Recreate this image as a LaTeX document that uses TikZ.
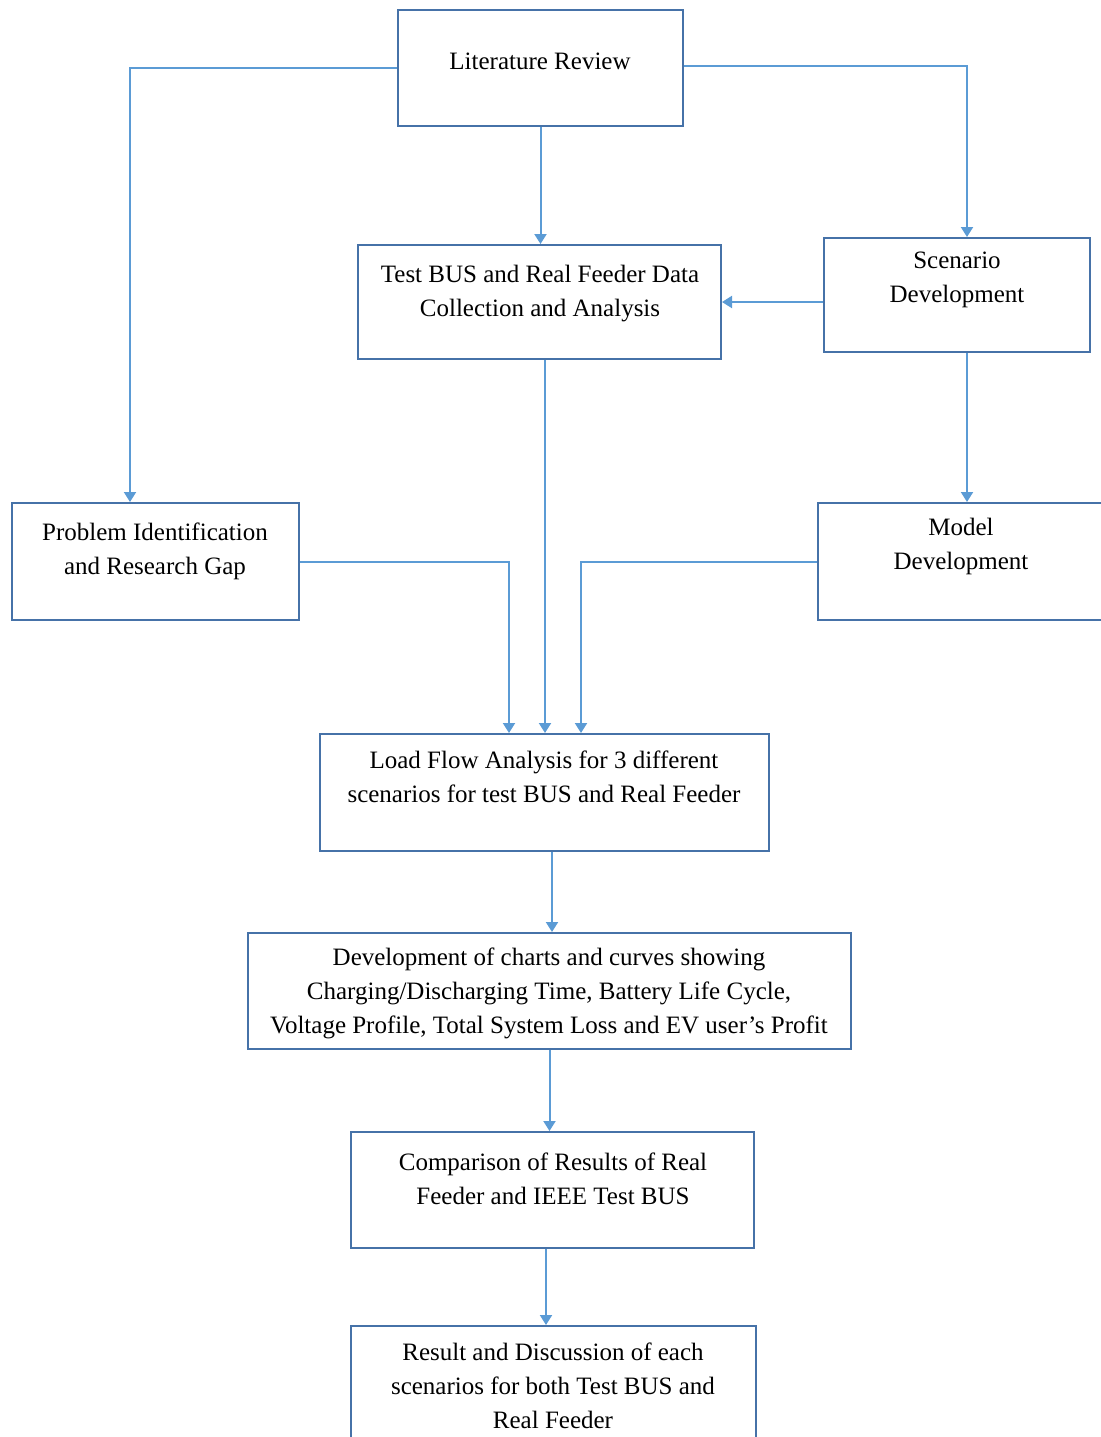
\documentclass[tikz,border=0pt]{standalone}
\usepackage{fontspec}
\setmainfont{Liberation Serif}
\usetikzlibrary{arrows.meta,fit,calc}
\definecolor{boxblue}{RGB}{70,114,168}
\definecolor{arrblue}{RGB}{91,155,213}
\begin{document}
\begin{tikzpicture}[x=0.5pt,y=-0.5pt,
  box/.style={draw=boxblue,line width=1pt,inner sep=0pt,fill=white},
  txt/.style={align=center,inner sep=0pt,font=\fontsize{12.5}{17}\selectfont},
  arr/.style={draw=arrblue,line width=1pt,-{Triangle[width=6pt,length=5pt]}}]
\useasboundingbox (0,0) rectangle (1101,1437);
\clip (0,0) rectangle (1101,1437);
% boxes
\node[box,fit={(398,10)(683,126)}] (lit) {};
\node[box,fit={(358,245)(721,359)}] (test) {};
\node[box,fit={(824,238)(1090,352)}] (scen) {};
\node[box,fit={(12,503)(299,620)}] (prob) {};
\node[box,fit={(818,503)(1104,620)}] (model) {};
\node[box,fit={(320,734)(769,851)}] (load) {};
\node[box,fit={(248,933)(851,1049)}] (dev) {};
\node[box,fit={(351,1132)(754,1248)}] (comp) {};
\node[box,fit={(351,1326)(756,1480)}] (res) {};
% texts
\node[txt] (litT) at (540,61) {Literature Review};
\node[txt] (testT) at (540,294) {Test BUS and Real Feeder Data\\Collection and Analysis};
\node[txt] (scenT) at (957,280) {Scenario\\Development};
\node[txt] (probT) at (155,551) {Problem Identification\\and Research Gap};
\node[txt] (modelT) at (961,546) {Model\\Development};
\node[txt] (loadT) at (544,777) {Load Flow Analysis for 3 different\\scenarios for test BUS and Real Feeder};
\node[txt] (devT) at (549,993) {Development of charts and curves showing\\Charging/Discharging Time, Battery Life Cycle,\\Voltage Profile, Total System Loss and EV user’s Profit};
\node[txt] (compT) at (553,1179) {Comparison of Results of Real\\Feeder and IEEE Test BUS};
\node[txt] (resT) at (553,1386) {Result and Discussion of each\\scenarios for both Test BUS and\\Real Feeder};
% connectors
\draw[arr] (lit.west) -| ([xshift=-12.75pt]prob.north);
\draw[arr] ([yshift=1pt]lit.east) -| ([xshift=5pt]scen.north);
\draw[arr] (lit.south) -- (lit.south |- test.north);
\draw[arr] (scen.west |- test.east) -- (test.east);
\draw[arr] ([xshift=5pt]scen.south) -- ([xshift=5pt]scen.south |- model.north);
\draw[arr] ([xshift=2.75pt]test.south) -- ([xshift=2.75pt]test.south |- load.north);
\draw[arr] (prob.east) -| ([xshift=-17.75pt]load.north);
\draw[arr] (model.west) -| ([xshift=18.25pt]load.north);
\draw[arr] ([xshift=1.25pt]dev.north |- load.south) -- ([xshift=1.25pt]dev.north);
\draw[arr] (dev.south) -- (dev.south |- comp.north);
\draw[arr] ([xshift=-3.25pt]comp.south) -- ([xshift=-3.25pt]comp.south |- res.north);
\end{tikzpicture}
\end{document}
